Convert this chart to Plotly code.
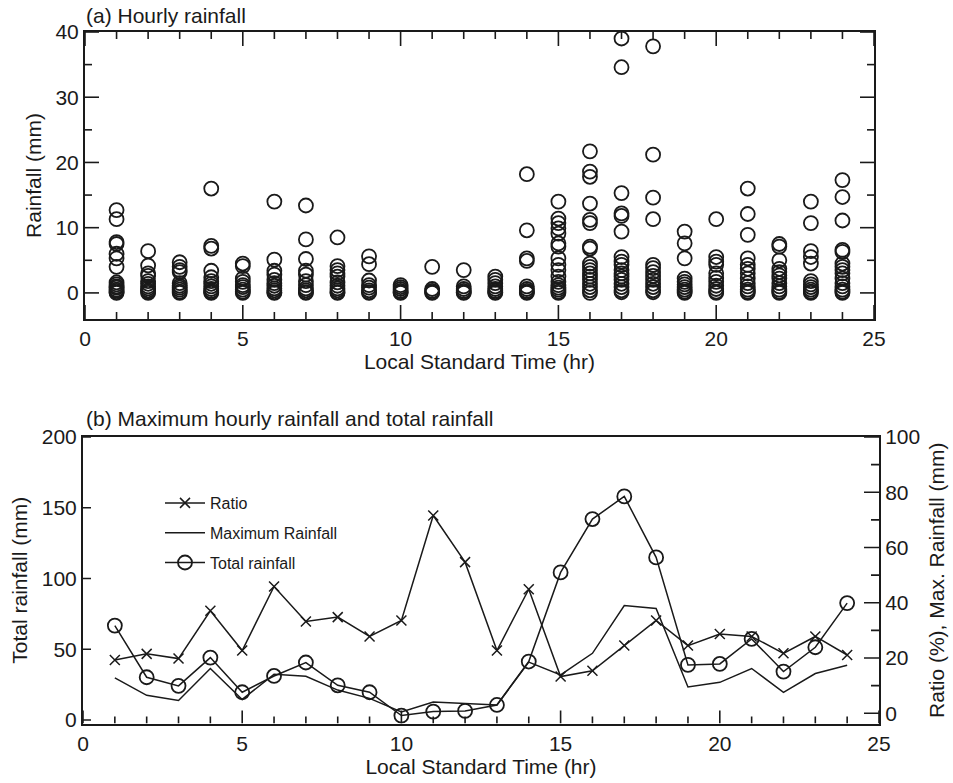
import plotly.graph_objects as go

# ---------------- data ----------------
hours = list(range(1, 25))

rain_h01 = [12.7, 11.3, 7.8, 7.5, 6.0, 5.3, 4.0, 1.6, 1.3, 1.0, 0.8, 0.5, 0.3, 0.1, 0.0]
rain_h02 = [6.4, 4.2, 3.0, 2.6, 1.8, 1.4, 1.0, 0.7, 0.4, 0.2, 0.0]
rain_h03 = [4.7, 4.0, 3.5, 3.2, 1.5, 1.1, 0.8, 0.5, 0.2, 0.0]
rain_h04 = [16.0, 7.2, 6.8, 3.4, 2.4, 1.8, 1.4, 1.0, 0.6, 0.3, 0.1, 0.0]
rain_h05 = [4.5, 4.1, 2.2, 1.7, 1.2, 0.9, 0.5, 0.2, 0.0]
rain_h06 = [14.0, 5.1, 3.4, 2.8, 2.0, 1.5, 1.1, 0.7, 0.4, 0.1, 0.0]
rain_h07 = [13.4, 8.2, 5.2, 3.4, 2.8, 1.8, 1.2, 0.7, 0.4, 0.1, 0.0]
rain_h08 = [8.5, 4.1, 3.5, 3.0, 2.5, 1.6, 1.1, 0.7, 0.4, 0.1, 0.0]
rain_h09 = [5.6, 4.4, 1.9, 1.2, 0.8, 0.4, 0.1, 0.0]
rain_h10 = [1.2, 0.9, 0.6, 0.3, 0.1, 0.0]
rain_h11 = [4.0, 0.6, 0.3, 0.1, 0.0]
rain_h12 = [3.5, 1.0, 0.6, 0.3, 0.1, 0.0]
rain_h13 = [2.5, 2.0, 1.5, 1.0, 0.6, 0.3, 0.1, 0.0]
rain_h14 = [18.2, 9.6, 5.3, 4.9, 1.0, 0.6, 0.3, 0.1, 0.0]
rain_h15 = [14.0, 11.4, 10.7, 9.9, 9.1, 7.6, 7.1, 5.3, 4.3, 3.5, 2.5, 1.7, 1.2, 0.8, 0.5, 0.2, 0.0]
rain_h16 = [21.7, 18.6, 17.8, 13.7, 11.2, 10.7, 7.1, 6.8, 4.5, 4.0, 3.5, 3.0, 2.5, 2.0, 1.4, 0.9, 0.4, 0.0]
rain_h17 = [39.0, 34.6, 15.3, 12.2, 11.8, 9.4, 5.5, 4.8, 4.3, 3.5, 3.0, 2.5, 2.0, 1.4, 0.9, 0.4, 0.1]
rain_h18 = [37.8, 21.2, 14.6, 11.3, 4.3, 3.8, 3.2, 2.6, 2.0, 1.4, 0.9, 0.4, 0.1]
rain_h19 = [9.4, 7.6, 5.3, 2.2, 1.7, 1.3, 0.9, 0.5, 0.2, 0.0]
rain_h20 = [11.3, 5.5, 4.8, 4.3, 3.0, 2.3, 1.7, 1.1, 0.6, 0.2, 0.0]
rain_h21 = [16.0, 12.1, 8.9, 5.3, 4.3, 3.7, 3.0, 2.2, 1.5, 1.0, 0.5, 0.2, 0.0]
rain_h22 = [7.5, 7.1, 5.0, 3.7, 3.2, 2.7, 2.2, 1.5, 1.0, 0.5, 0.2, 0.0]
rain_h23 = [14.0, 10.7, 6.4, 5.5, 4.5, 1.8, 1.3, 0.9, 0.5, 0.2, 0.0]
rain_h24 = [17.3, 14.7, 11.1, 6.6, 6.3, 4.5, 4.0, 3.5, 3.0, 2.2, 1.5, 1.0, 0.5, 0.2, 0.0]

total_rain = [66.7, 30.2, 24.1, 44.1, 19.6, 31.1, 40.6, 24.5, 19.6, 3.1, 5.9, 6.4,
              10.6, 41.3, 104.3, 142.0, 158.0, 114.9, 38.9, 39.6, 57.3, 34.2, 51.4, 82.6]
max_rain = [12.8, 6.5, 4.6, 16.2, 5.0, 14.1, 13.4, 8.4, 5.4, 0.5, 4.1, 3.5,
            3.0, 18.5, 13.9, 21.7, 39.0, 37.9, 9.5, 11.2, 16.2, 7.6, 14.4, 17.4]
ratio = [19.3, 21.5, 19.8, 37.1, 22.7, 45.9, 33.2, 34.8, 27.8, 33.6, 71.6, 54.7,
         22.7, 44.9, 13.3, 15.4, 24.5, 33.6, 24.5, 28.7, 27.8, 21.7, 27.8, 21.1]

hour_lists = [rain_h01, rain_h02, rain_h03, rain_h04, rain_h05, rain_h06, rain_h07, rain_h08,
              rain_h09, rain_h10, rain_h11, rain_h12, rain_h13, rain_h14, rain_h15, rain_h16,
              rain_h17, rain_h18, rain_h19, rain_h20, rain_h21, rain_h22, rain_h23, rain_h24]

scatter_x, scatter_y = [], []
for h, vals in zip(hours, hour_lists):
    for v in vals:
        scatter_x.append(h)
        scatter_y.append(v)

# ---------------- geometry ----------------
FONT = "Arial, Liberation Sans, Helvetica, sans-serif"
BLACK = "#1a1a1a"
W, H = 953, 783

TOP_X_RANGE = [0, 25]
TOP_Y_RANGE = [-4, 40]
BOT_X_RANGE = [0, 25]
BOT_YL_RANGE = [-2.5, 200]
BOT_YR_RANGE = [-3.7, 100]

top_px = (85, 874, 32, 319)      # left, right, top, bottom
bot_px = (83, 879, 437, 723.5)

def px_x(p):
    return p / W

def px_y(p):
    return (H - p) / H

top_x_dom = [px_x(top_px[0]), px_x(top_px[1])]
top_y_dom = [px_y(top_px[3]), px_y(top_px[2])]
bot_x_dom = [px_x(bot_px[0]), px_x(bot_px[1])]
bot_y_dom = [px_y(bot_px[3]), px_y(bot_px[2])]

def units_per_px(rng, npx):
    return (rng[1] - rng[0]) / npx

top_ux = units_per_px(TOP_X_RANGE, top_px[1] - top_px[0])
top_uy = units_per_px(TOP_Y_RANGE, top_px[3] - top_px[2])
bot_ux = units_per_px(BOT_X_RANGE, bot_px[1] - bot_px[0])
bot_uyl = units_per_px(BOT_YL_RANGE, bot_px[3] - bot_px[2])

fig = go.Figure()

# ---------------- tick marks (inside), drawn through the axes ----------------
def tick_trace(xs, ys, xa, ya):
    fig.add_trace(go.Scatter(x=xs, y=ys, mode="lines", xaxis=xa, yaxis=ya,
                             line=dict(color=BLACK, width=1.6), showlegend=False,
                             hoverinfo="skip", cliponaxis=False))

# top panel x ticks (bottom and top)
xs, ys = [], []
for k in range(0, 26):
    ln = (14 if k % 5 == 0 else 7)
    xs += [k, k, None, k, k, None]
    ys += [TOP_Y_RANGE[0], TOP_Y_RANGE[0] + ln * top_uy, None,
           TOP_Y_RANGE[1], TOP_Y_RANGE[1] - ln * top_uy, None]
tick_trace(xs, ys, "x", "y")
# top panel y ticks (left and right)
xs, ys = [], []
for k in range(0, 41, 5):
    ln = (14 if k % 10 == 0 else 7)
    xs += [TOP_X_RANGE[0], TOP_X_RANGE[0] + ln * top_ux, None,
           TOP_X_RANGE[1], TOP_X_RANGE[1] - ln * top_ux, None]
    ys += [k, k, None, k, k, None]
tick_trace(xs, ys, "x", "y")
# bottom panel x ticks (bottom only)
xs, ys = [], []
for k in range(0, 26):
    ln = (13 if k % 5 == 0 else 7)
    xs += [k, k, None]
    ys += [BOT_YL_RANGE[0], BOT_YL_RANGE[0] + ln * bot_uyl, None]
tick_trace(xs, ys, "x2", "y3")
# bottom panel left y ticks
xs, ys = [], []
for k in range(0, 201, 50):
    xs += [BOT_X_RANGE[0], BOT_X_RANGE[0] + 8 * bot_ux, None]
    ys += [k, k, None]
tick_trace(xs, ys, "x2", "y3")
# bottom panel right y ticks
xs, ys = [], []
for k in range(0, 101, 10):
    ln = (15 if k % 20 == 0 else 8)
    xs += [BOT_X_RANGE[1], BOT_X_RANGE[1] - ln * bot_ux, None]
    ys += [k, k, None]
tick_trace(xs, ys, "x2", "y4")

# ---------------- data traces ----------------
circle = dict(symbol="circle-open", size=14, color=BLACK, line=dict(width=1.8, color=BLACK))

fig.add_trace(go.Scatter(x=scatter_x, y=scatter_y, mode="markers", marker=circle,
                         xaxis="x", yaxis="y", showlegend=False, cliponaxis=False))

fig.add_trace(go.Scatter(x=hours, y=ratio, mode="lines+markers", name="Ratio",
                         line=dict(color=BLACK, width=1.5),
                         marker=dict(symbol="x-thin-open", size=10, color=BLACK,
                                     line=dict(width=1.5, color=BLACK)),
                         xaxis="x2", yaxis="y4", legendgroup="a", legendrank=1))
fig.add_trace(go.Scatter(x=hours, y=max_rain, mode="lines", name="Maximum Rainfall",
                         line=dict(color=BLACK, width=1.5),
                         xaxis="x2", yaxis="y4", legendgroup="b", legendrank=2))
fig.add_trace(go.Scatter(x=hours, y=total_rain, mode="lines+markers", name="Total rainfall",
                         line=dict(color=BLACK, width=1.5), marker=circle,
                         xaxis="x2", yaxis="y3", legendgroup="c", legendrank=3))

tickfont = dict(family=FONT, size=21, color=BLACK)
titlefont = dict(family=FONT, size=21, color=BLACK)

def axis(**kw):
    d = dict(showline=True, linecolor=BLACK, linewidth=2, showgrid=False, zeroline=False,
             ticks="", tickfont=tickfont, automargin=False)
    d.update(kw)
    return d

fig.update_layout(
    template="none",
    width=W, height=H,
    margin=dict(l=0, r=0, t=0, b=0),
    paper_bgcolor="white", plot_bgcolor="white",
    font=dict(family=FONT, color=BLACK),
    xaxis=axis(domain=top_x_dom, range=TOP_X_RANGE, anchor="y", tick0=0, dtick=5, mirror=True,
               title=dict(text="Local Standard Time (hr)", font=titlefont, standoff=4)),
    yaxis=axis(domain=top_y_dom, range=TOP_Y_RANGE, anchor="x", tick0=0, dtick=10, mirror=True,
               title=dict(text="Rainfall (mm)", font=titlefont, standoff=8)),
    xaxis2=axis(domain=bot_x_dom, range=BOT_X_RANGE, anchor="y3", tick0=0, dtick=5, mirror=True,
                title=dict(text="Local Standard Time (hr)", font=titlefont, standoff=4)),
    yaxis3=axis(domain=bot_y_dom, range=BOT_YL_RANGE, anchor="x2", tick0=0, dtick=50,
                mirror=False,
                title=dict(text="Total rainfall (mm)", font=titlefont, standoff=8)),
    yaxis4=axis(domain=bot_y_dom, range=BOT_YR_RANGE, anchor="x2", overlaying="y3",
                side="right", tick0=0, dtick=20,
                title=dict(text="Ratio (%), Max. Rainfall (mm)", font=titlefont, standoff=10)),
    legend=dict(x=px_x(160), y=px_y(486), xanchor="left", yanchor="top",
                bgcolor="rgba(0,0,0,0)", borderwidth=0,
                font=dict(family=FONT, size=16, color=BLACK),
                tracegroupgap=6, itemwidth=40),
    annotations=[
        dict(text="(a) Hourly rainfall", x=px_x(84), y=px_y(16), xref="paper", yref="paper",
             xanchor="left", yanchor="middle", showarrow=False,
             font=dict(family=FONT, size=21, color=BLACK)),
        dict(text="(b) Maximum hourly rainfall and total rainfall", x=px_x(84), y=px_y(418),
             xref="paper", yref="paper", xanchor="left", yanchor="middle", showarrow=False,
             font=dict(family=FONT, size=21, color=BLACK)),
    ],
)

fig.write_html("out.html")
